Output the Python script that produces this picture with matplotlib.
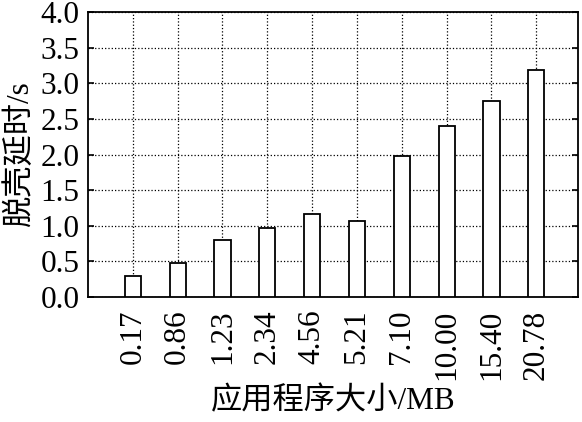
import matplotlib
matplotlib.use("Agg")
import matplotlib.pyplot as plt
import numpy as np

# app size (MB) vs unpacking delay (s)
sizes = ["0.17", "0.86", "1.23", "2.34", "4.56", "5.21", "7.10", "10.00", "15.40", "20.78"]
delays = [0.29, 0.48, 0.80, 0.97, 1.17, 1.06, 1.98, 2.40, 2.75, 3.18]
yticks = [0.0, 0.5, 1.0, 1.5, 2.0, 2.5, 3.0, 3.5, 4.0]

FONTS = ['Liberation Serif', 'Noto Sans CJK SC']
plt.rcParams['font.family'] = FONTS

fig = plt.figure(figsize=(5.82, 4.22), dpi=100)
ax = fig.add_axes([88 / 582, 125 / 422, 490 / 582, 285 / 422])

x = np.arange(1, len(sizes) + 1)
ax.bar(x, delays, width=0.36, facecolor='white', edgecolor='black',
       linewidth=1.3, zorder=3)

ax.set_xlim(0, 10.93)
ax.set_ylim(0, 4.0)
ax.set_xticks(x)
ax.set_xticklabels(sizes, rotation=90, fontsize=22.5)
ax.set_yticks(yticks)
ax.set_yticklabels([f"{v:.1f}" for v in yticks], fontsize=22.5)

ax.grid(True, linestyle=':', color='black', linewidth=0.9, zorder=0)
ax.set_axisbelow(True)

ax.tick_params(axis='y', direction='in', left=True, right=True, length=4,
               width=1.2, pad=6)
ax.tick_params(axis='x', length=0, pad=9)
for sp in ax.spines.values():
    sp.set_linewidth(1.3)

ax.set_xlabel("应用程序大小/MB", fontsize=22.5, va='center')
ax.xaxis.set_label_coords(0.5, -0.368)
ax.set_ylabel("脱壳延时/s", fontsize=22.5, va='center')
ax.yaxis.set_label_coords(-0.139, 0.5)

fig.savefig("out.png", dpi=100)
